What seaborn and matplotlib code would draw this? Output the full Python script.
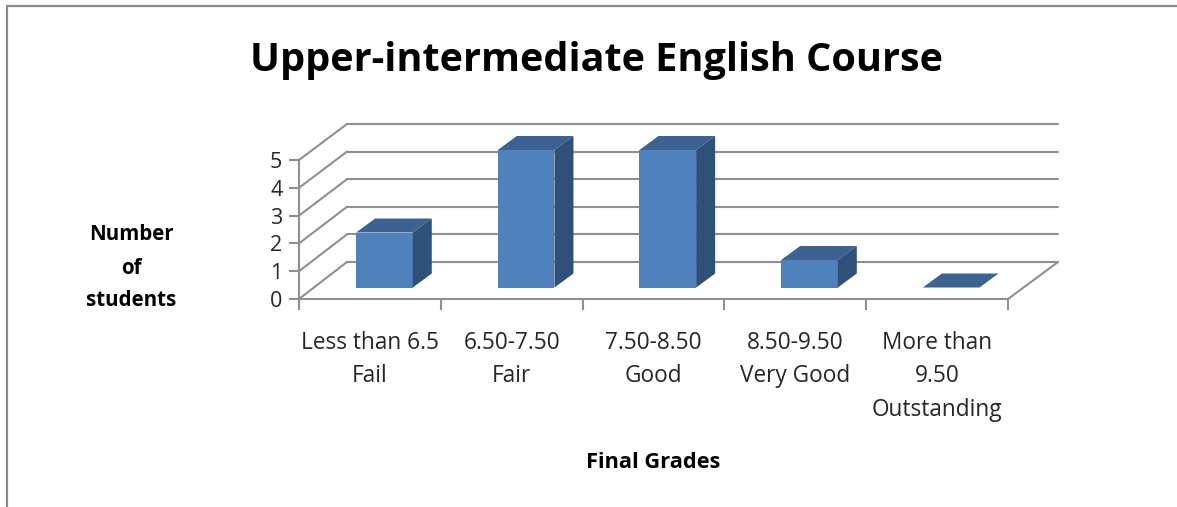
import matplotlib
matplotlib.use("Agg")
import matplotlib.pyplot as plt
import pandas as pd
import seaborn as sns
from matplotlib.lines import Line2D
from matplotlib.patches import ConnectionPatch, Polygon

# Chart data
categories = ["Less than 6.5\nFail", "6.50-7.50\nFair", "7.50-8.50\nGood",
              "8.50-9.50\nVery Good", "More than\n9.50\nOutstanding"]
students = [2, 5, 5, 1, 0]
y_ticks = [0, 1, 2, 3, 4, 5]

W, H = 1177, 507
GRID = "#8f8f8f"
FRONT = "#4f81bd"
SIDE = "#2f5179"
TOP = "#3b6290"

sns.set_theme(style="white")
plt.rcParams["font.family"] = ["Open Sans", "DejaVu Sans"]


def axes_px(fig, left, right, bottom, top):
    # axes box given in image pixels
    return fig.add_axes([left / W, 1 - bottom / H, (right - left) / W, (bottom - top) / H])


fig = plt.figure(figsize=(W / 100, H / 100), dpi=100, facecolor="white")

# Back wall with the gridlines
ax_back = axes_px(fig, 347, 1058, 262, 124)
ax_back.set_xlim(-0.5, 4.5)
ax_back.set_ylim(0, 5)
ax_back.patch.set_visible(False)
ax_back.set_xticks([])
ax_back.set_yticks(y_ticks)
ax_back.tick_params(left=False, labelleft=False)
ax_back.grid(axis="y", color=GRID, lw=1.5, clip_on=False)
sns.despine(ax=ax_back, left=True, bottom=True)

# Front plane: the real axes with ticks and labels
ax_front = axes_px(fig, 299, 1008, 299, 160)
ax_front.set_xlim(-0.5, 4.5)
ax_front.set_ylim(0, 5)
ax_front.patch.set_visible(False)
ax_front.set_yticks(y_ticks)
ax_front.set_xticks([i - 0.5 for i in range(len(categories) + 1)])
ax_front.set_xticklabels([])
ax_front.set_xticks(range(len(categories)), minor=True)
ax_front.set_xticklabels(categories, minor=True, fontsize=16.3, color="#262626", linespacing=1.52)
ax_front.tick_params(axis="x", which="major", length=8, width=1.5, color=GRID, bottom=True)
ax_front.tick_params(axis="x", which="minor", length=0, pad=23, bottom=True)
ax_front.tick_params(axis="y", length=7, width=1.5, color=GRID, left=True, pad=5,
                     labelsize=15.5, labelcolor="#262626")
sns.despine(ax=ax_front)
for side in ["left", "bottom"]:
    ax_front.spines[side].set_color(GRID)
    ax_front.spines[side].set_linewidth(1.5)

# Side wall and floor edges join the two planes
for v in y_ticks:
    ax_front.add_artist(ConnectionPatch((-0.5, v), (-0.5, v), coordsA=ax_front.transData,
                                        coordsB=ax_back.transData, color=GRID, lw=1.5))
ax_front.add_artist(ConnectionPatch((4.5, 0), (4.5, 0), coordsA=ax_front.transData,
                                    coordsB=ax_back.transData, color=GRID, lw=1.5))

# Bars
ax = axes_px(fig, 313.6, 1022, 287.5, 150)
ax.patch.set_visible(False)
df = pd.DataFrame({"grade": categories, "students": students})
sns.barplot(data=df, x="grade", y="students", color=FRONT, saturation=1, width=0.4,
            linewidth=0, ax=ax)
ax.set_xlim(-0.5, 4.5)
ax.set_ylim(0, 5)
ax.axis("off")

# Depth of the bars, pixels converted to data units
dx = 19 / (708.4 / 5)
dy = 14 / (137.5 / 5)
for bar in ax.patches[:len(students)]:
    x0, w, h = bar.get_x(), bar.get_width(), bar.get_height()
    x1 = x0 + w
    ax.add_patch(Polygon([(x0, h), (x1, h), (x1 + dx, h + dy), (x0 + dx, h + dy)],
                         facecolor=TOP, edgecolor="none", clip_on=False))
    if h > 0:
        ax.add_patch(Polygon([(x1, 0), (x1, h), (x1 + dx, h + dy), (x1 + dx, dy)],
                             facecolor=SIDE, edgecolor="none", clip_on=False))

# Titles
fig.text(596 / W, 1 - 61 / H, "Upper-intermediate English Course", ha="center", va="center",
         fontsize=28.5, fontweight="bold", color="black")
fig.text(131 / W, 1 - 268 / H, "Number\nof\nstudents", ha="center", va="center",
         fontsize=14.8, fontweight="bold", color="black", linespacing=1.75)
fig.text(653 / W, 1 - 462 / H, "Final Grades", ha="center", va="center",
         fontsize=15.7, fontweight="bold", color="black")

# Outer chart border, only top and left are in the picture
fig.add_artist(Line2D([6.5 / W, 6.5 / W], [0, 1 - 5.5 / H], color="#8c8c8c", lw=1.6))
fig.add_artist(Line2D([6.5 / W, 1], [1 - 5.5 / H, 1 - 5.5 / H], color="#8c8c8c", lw=1.6))

fig.savefig("out.png", dpi=100)
